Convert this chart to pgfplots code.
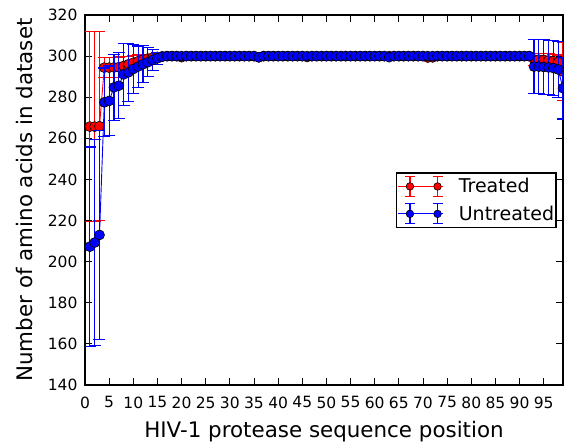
\documentclass[border=0pt]{standalone}
\usepackage{fontspec}
\setmainfont{DejaVu Sans}
\usepackage{pgfplots}
\pgfplotsset{compat=1.18}
\usepackage{pgfplotstable}

\pgfplotstableread{
x y e
1 265.7 46.1
2 265.7 46.1
3 265.9 46.0
4 294.4 5.0
5 294.4 5.0
6 294.5 5.0
7 294.6 5.0
8 295.2 4.5
9 296.0 4.0
10 296.8 3.5
11 297.5 3.0
12 298.2 2.5
13 298.8 2.0
14 299.3 1.5
15 299.6 1.0
16 299.9 0.5
17 300 0
18 300 0
19 300 0
20 299.5 0.8
21 300 0
22 300 0
23 300 0
24 300 0
25 300 0
26 300 0
27 300 0
28 300 0
29 300 0
30 300 0
31 300 0
32 300 0
33 300 0
34 300 0
35 300 0
36 299.5 0.8
37 300 0
38 300 0
39 300 0
40 300 0
41 300 0
42 300 0
43 300 0
44 300 0
45 300 0
46 299.6 0.6
47 300 0
48 300 0
49 300 0
50 300 0
51 300 0
52 300 0
53 300 0
54 300 0
55 300 0
56 300 0
57 300 0
58 300 0
59 300 0
60 300 0
61 300 0
62 300 0
63 300 0
64 300 0
65 300 0
66 300 0
67 300 0
68 300 0
69 300 0
70 300 0
71 299.3 1.0
72 299.4 0.9
73 300 0
74 300 0
75 300 0
76 300 0
77 300 0
78 300 0
79 300 0
80 300 0
81 300 0
82 300 0
83 300 0
84 300 0
85 300 0
86 300 0
87 300 0
88 300 0
89 300 0
90 300 0
91 300 0
92 300 0
93 298.4 3.0
94 298.3 3.0
95 298.2 3.1
96 297.9 3.2
97 297.6 3.3
98 297.0 3.5
99 292.5 14.0
}\treated

\pgfplotstableread{
x y e
1 207.3 48.5
2 209.3 50.0
3 213.0 51.0
4 277.5 16.7
5 278.2 17.0
6 284.8 16.0
7 285.6 16.0
8 291.1 15.0
9 292.1 14.0
10 293.7 12.0
11 294.9 10.0
12 296.0 9.0
13 297.0 7.0
14 298.1 5.0
15 298.9 3.0
16 299.7 1.5
17 300 0.5
18 300 0
19 300 0
20 300 0
21 300 0
22 300 0
23 300 0
24 300 0
25 300 0
26 300 0
27 300 0
28 300 0
29 300 0
30 300 0
31 300 0
32 300 0
33 300 0
34 300 0
35 300 0
36 299.4 1.0
37 300 0
38 300 0
39 300 0
40 300 0
41 300 0
42 300 0
43 300 0
44 300 0
45 300 0
46 300 0
47 300 0
48 300 0
49 300 0
50 300 0
51 300 0
52 300 0
53 300 0
54 300 0
55 300 0
56 300 0
57 300 0
58 300 0
59 300 0
60 300 0
61 300 0
62 300 0
63 299.5 0.8
64 300 0
65 300 0
66 300 0
67 300 0
68 300 0
69 300 0
70 300 0
71 300 0
72 300 0
73 300 0
74 300 0
75 300 0
76 300 0
77 300 0
78 300 0
79 300 0
80 300 0
81 300 0
82 300 0
83 300 0
84 300 0
85 300 0
86 300 0
87 300 0
88 300 0
89 300 0
90 300 0
91 300 0
92 300 0
93 294.9 13.2
94 294.9 13.2
95 294.7 13.2
96 294.5 13.2
97 294.2 13.2
98 293.5 13.5
99 284.4 15.0
}\untreated

\newcommand{\legimg}[1]{%
  \path (-11.7pt,0pt) -- (32.6pt,0pt);
  \draw[#1, line width=1pt] (0pt,0pt) -- (27.6pt,0pt);
  \draw[#1, line width=1.1pt]
    (0pt,-10pt) -- (0pt,10pt) (-5pt,-10pt) -- (5pt,-10pt) (-5pt,10pt) -- (5pt,10pt)
    (27.6pt,-10pt) -- (27.6pt,10pt) (22.6pt,-10pt) -- (32.6pt,-10pt) (22.6pt,10pt) -- (32.6pt,10pt);
  \draw[black, fill=#1, line width=0.6pt] (0pt,0pt) circle (3.8pt) (27.6pt,0pt) circle (3.8pt);
}

\begin{document}
\begin{tikzpicture}
\begin{axis}[
  name=ax,
  scale only axis, width=478pt, height=370pt,
  xmin=0, xmax=99, ymin=140, ymax=320,
  xtick={0,5,...,95}, ytick={140,160,...,320},
  tick align=inside, major tick length=7pt,
  axis line style={line width=1.4pt, black},
  tick style={line width=0.9pt, black},
  ticklabel style={font=\fontsize{15.5}{18}\selectfont},
  xticklabel style={yshift=-8pt},
  yticklabel style={xshift=-4pt},
  /pgf/number format/assume math mode=true,
  xlabel={HIV-1 protease sequence position},
  ylabel={Number of amino acids in dataset},
  every axis x label/.style={at={(axis description cs:0.5,-0.1257)}, anchor=center,
    font=\fontsize{21.4}{25}\selectfont},
  every axis y label/.style={at={(axis description cs:-0.1255,0.5)}, anchor=center, rotate=90,
    font=\fontsize{21.4}{25}\selectfont},
  clip marker paths=true,
  legend cell align=left,
  legend style={at={(0.987,0.575)}, anchor=north east, draw=black, line width=1.3pt,
    font=\fontsize{19}{22}\selectfont, inner xsep=1pt, inner ysep=3pt,
    nodes={inner sep=1pt}, column sep=14.7pt, row sep=6.3pt},
]
\addplot[red, line width=0.9pt, mark=*, mark size=5pt,
  mark options={fill=red, draw=black, line width=0.6pt},
  legend image code/.code={\legimg{red}},
  error bars/.cd, y dir=both, y explicit,
  error bar style={red, line width=1.2pt},
  error mark options={rotate=90, red, mark size=6pt, line width=1.2pt}]
  table[x=x, y=y, y error=e] {\treated};
\addlegendentry{Treated}
\addplot[blue, line width=0.9pt, mark=*, mark size=5pt,
  mark options={fill=blue, draw=black, line width=0.6pt},
  legend image code/.code={\legimg{blue}},
  error bars/.cd, y dir=both, y explicit,
  error bar style={blue, line width=1.2pt},
  error mark options={rotate=90, blue, mark size=6pt, line width=1.2pt}]
  table[x=x, y=y, y error=e] {\untreated};
\addlegendentry{Untreated}
\end{axis}
\pgfresetboundingbox
\path[use as bounding box] ([xshift=-85pt,yshift=-61pt]ax.south west) rectangle ([xshift=2pt,yshift=15pt]ax.north east);
\end{tikzpicture}
\end{document}
